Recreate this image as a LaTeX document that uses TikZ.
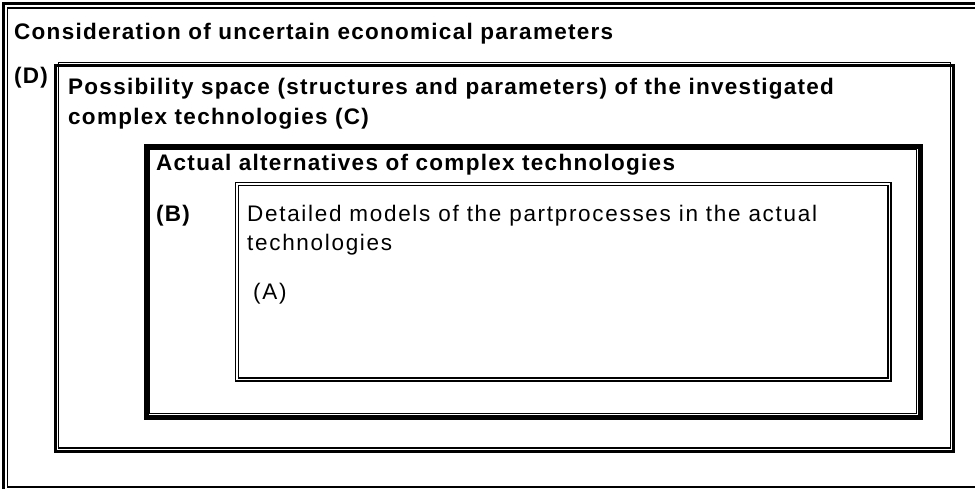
\documentclass[tikz,border=0pt]{standalone}
\usepackage{fontspec}
\setmainfont{Liberation Sans}
\newfontfamily\wideb[LetterSpace=5.7]{Liberation Sans Bold}
\newfontfamily\wider[LetterSpace=7.5]{Liberation Sans}
\begin{document}
\begin{tikzpicture}[x=1pt,y=-1pt,
  boldlbl/.style={inner sep=0pt, anchor=base west, font=\wideb\fontsize{22.5}{26}\selectfont},
  reglbl/.style={inner sep=0pt, anchor=base west, font=\wider\fontsize{22.5}{26}\selectfont},
  thinline/.style={line width=1.1pt},
  thickline/.style={line width=2.6pt},
  heavyline/.style={line width=5pt}]
\useasboundingbox (0,0) rectangle (975,488);
\begin{scope}
\clip (0,0) rectangle (975,488);
% frame D
\draw[thickline] (3.5,3.5) rectangle (1000,520);
\draw[thinline] (7.5,8) rectangle (995,487);
% frame C
\draw[thickline] (55.5,65.5) rectangle (953.5,451.5);
\draw[thinline] (58.5,62.5) rectangle (950.5,448);
% frame B
\draw[heavyline] (146,146) rectangle (920,417);
\draw[thinline] (149.5,149.5) rectangle (916.5,413.5);
% frame A
\draw[thinline] (235.5,182.5) rectangle (891,381);
\draw[thinline] (238.5,185.5) rectangle (888,378);
\end{scope}
\node[boldlbl] (tD) at (14,39) {Consideration of uncertain economical parameters};
\node[boldlbl] (lD) at (14,83) {(D)};
\node[boldlbl] (tC1) at (68,94) {Possibility space (structures and parameters) of the investigated};
\node[boldlbl] (tC2) at (68,124) {complex technologies (C)};
\node[boldlbl] (tB) at (156,170) {Actual alternatives of complex technologies};
\node[boldlbl] (lB) at (156,221) {(B)};
\node[reglbl] (tA1) at (247,221) {Detailed models of the partprocesses in the actual};
\node[reglbl] (tA2) at (247,250) {technologies};
\node[reglbl] (lA) at (253,299) {(A)};
\end{tikzpicture}
\end{document}
